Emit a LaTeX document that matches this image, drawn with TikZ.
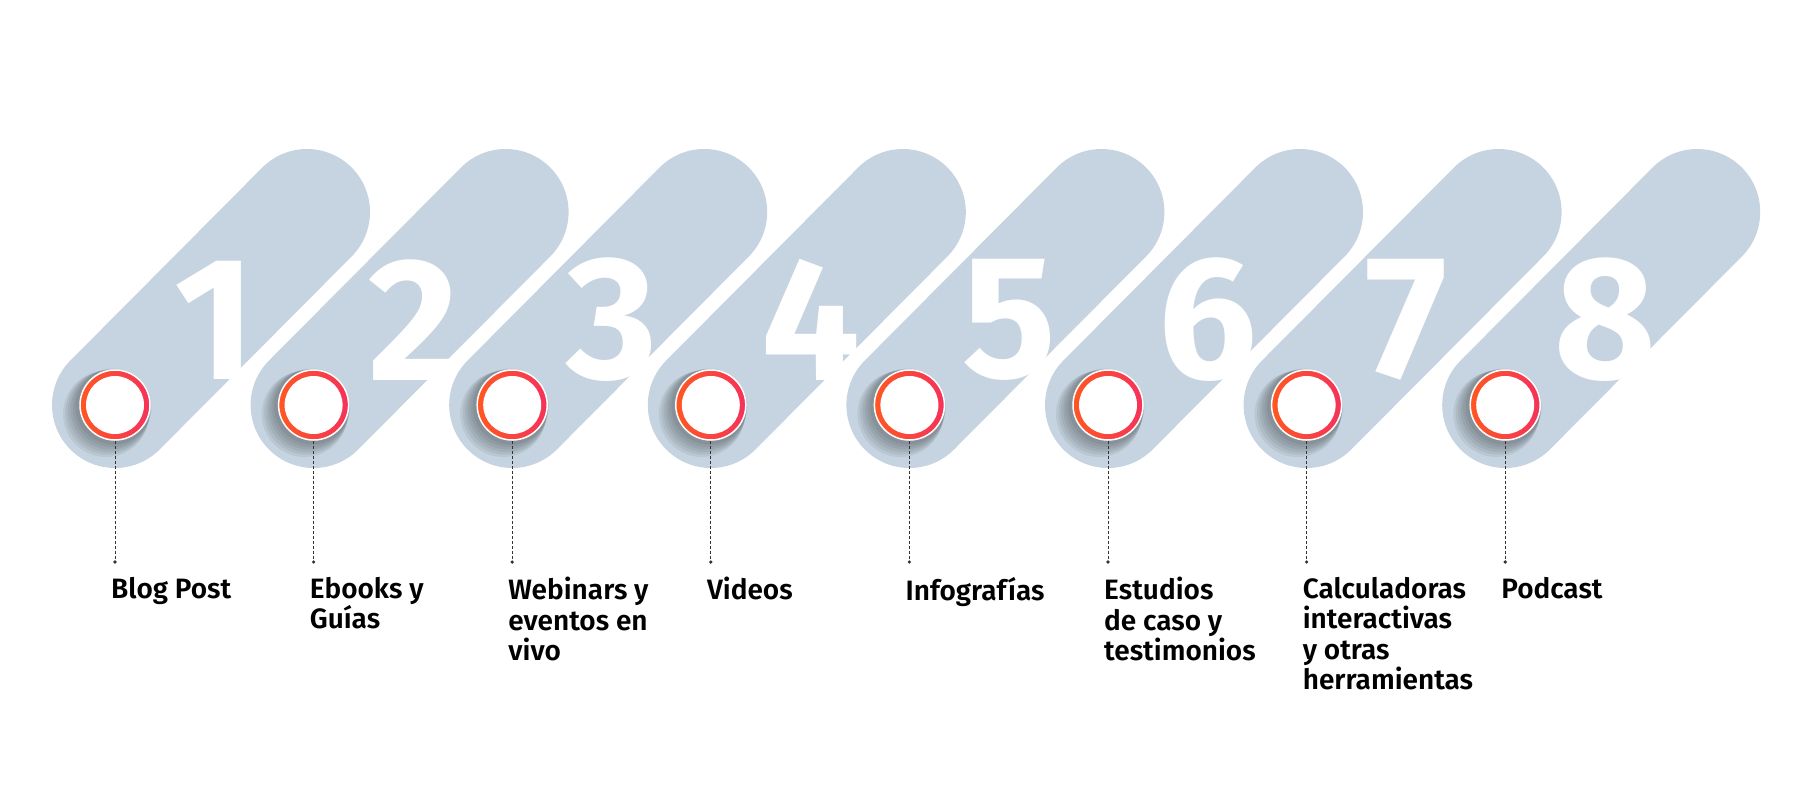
\documentclass[tikz,border=0pt]{standalone}
\usepackage{fontspec}
\setmainfont{Fira Sans}
\newfontfamily\labelfont{Fira Sans SemiBold}
\newfontfamily\digitfont{Fira Sans}
\usetikzlibrary{arrows.meta}
\definecolor{pill}{HTML}{C5D4E0}
\definecolor{ringa}{HTML}{FF5722}
\definecolor{ringb}{HTML}{F5325A}
\tikzset{
  pillbar/.style={line width=126pt, line cap=round, draw=pill},
  ring/.style={circle, minimum size=70pt, inner sep=0pt, left color=ringa, right color=ringb, draw=white, line width=1.5pt},
  hole/.style={circle, minimum size=58pt, inner sep=0pt, fill=white},
  leader/.style={densely dashed, line width=0.7pt, draw=black!80},
  itemlabel/.style={anchor=north west, align=left, inner sep=0pt, font=\labelfont\fontsize{28}{30.5}\selectfont}
}
\begin{document}
\begin{tikzpicture}[x=1pt, y=-1pt]
  \useasboundingbox (0,0) rectangle (1801,801);
  % pills
  \foreach \i in {0,...,7}
    \draw[pillbar] (115+198.6*\i, 405) -- (307+198.6*\i, 212);
  % big numbers
  \foreach \i in {1,...,8}
    \node[text=white, font=\digitfont\bfseries\fontsize{175}{175}\selectfont, inner sep=0pt]
      (n\i) at (16.4+198.6*\i, 320) {\i};
  % circles with shadow
  \foreach \i in {1,...,8} {
    \foreach \k in {1,...,6}
      \fill[black, opacity=0.06] (115+198.6*\i-198.6-1.5*\k, 405+1.5*\k) circle (37+\k);
    \node[ring] (c\i) at (115+198.6*\i-198.6, 405) {};
    \node[hole] at (c\i) {};
    \coordinate (d\i) at (115+198.6*\i-198.6, 562);
    \draw[leader] (c\i.south) -- (d\i);
    \fill[black!80] (d\i) circle (1.8);
  }
  % labels
  \node[itemlabel] (l1) at (111, 577) {Blog Post};
  \node[itemlabel] (l2) at (309.6, 577) {Ebooks y\\Guías};
  \node[itemlabel] (l3) at (508.2, 577) {Webinars y\\eventos en\\vivo};
  \node[itemlabel] (l4) at (706.8, 577) {Videos};
  \node[itemlabel] (l5) at (905.4, 577) {Infografías};
  \node[itemlabel] (l6) at (1104, 577) {Estudios\\de caso y\\testimonios};
  \node[itemlabel] (l7) at (1302.6, 577) {Calculadoras\\interactivas\\y otras\\herramientas};
  \node[itemlabel] (l8) at (1501.2, 577) {Podcast};
\end{tikzpicture}
\end{document}
